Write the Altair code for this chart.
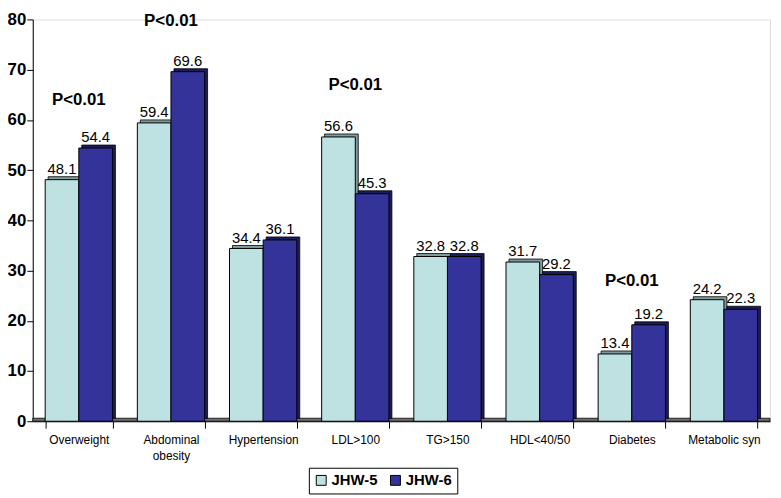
import altair as alt
import pandas as pd

categories = ["Overweight", "Abdominal obesity", "Hypertension", "LDL>100",
              "TG>150", "HDL<40/50", "Diabetes", "Metabolic syn"]
series = ["JHW-5", "JHW-6"]
jhw5 = [48.1, 59.4, 34.4, 56.6, 32.8, 31.7, 13.4, 24.2]
jhw6 = [54.4, 69.6, 36.1, 45.3, 32.8, 29.2, 19.2, 22.3]
p_categories = ["Overweight", "Abdominal obesity", "LDL>100", "Diabetes"]
p_heights = [64.0, 79.6, 67.0, 28.0]
p_text = "P<0.01"
y_ticks = list(range(0, 81, 10))
front_colors = ["#BEE2E2", "#333399"]

rows = []
for c, a, b in zip(categories, jhw5, jhw6):
    rows.append({"category": c, "series": series[0], "value": a, "label": f"{a:.1f}"})
    rows.append({"category": c, "series": series[1], "value": b, "label": f"{b:.1f}"})
df = pd.DataFrame(rows)
pdf = pd.DataFrame({"category": p_categories, "value": p_heights, "text": [p_text] * len(p_categories)})

W, H = 745, 406
FONT = "Liberation Sans"
PAD_IN = 0.27
BAND = W / len(categories) * (1 - PAD_IN)
DEPTH = 3

x = alt.X("category:N", sort=categories,
          scale=alt.Scale(paddingInner=PAD_IN, paddingOuter=PAD_IN / 2),
          axis=alt.Axis(title=None, labelAngle=0, tickBand="extent", tickSize=7,
                        tickColor="black", domainColor="black", labelColor="black",
                        labelFont=FONT, labelFontSize=12, labelPadding=7,
                        labelLineHeight=16,
                        labelExpr="datum.value == 'Abdominal obesity' ? ['Abdominal', 'obesity'] : datum.value"))
xo = alt.XOffset("series:N", sort=series,
                 scale=alt.Scale(type="band", paddingInner=0, paddingOuter=0,
                                 range=[0, BAND]))
xo_shadow = alt.XOffset("series:N", sort=series,
                        scale=alt.Scale(type="band", paddingInner=0, paddingOuter=0,
                                        range=[DEPTH, DEPTH + BAND]))
y = alt.Y("value:Q", scale=alt.Scale(domain=[0, 80], nice=False),
          axis=alt.Axis(values=y_ticks, title=None, grid=False, tickSize=6,
                        tickColor="black", domainColor="black", labelColor="black",
                        labelFont=FONT, labelFontSize=17, labelFontWeight="bold",
                        labelPadding=1))

base = alt.Chart(df)

floor = alt.Chart(pd.DataFrame({"a": [0]})).mark_rect(
    fill="#6e6e6e", stroke="black", strokeWidth=0.8
).encode(x=alt.value(0), x2=alt.value(W), y=alt.datum(0), y2=alt.datum(0.6))

shadow = base.mark_bar(yOffset=-DEPTH, stroke="black", strokeWidth=0.8).encode(
    x=x, xOffset=xo_shadow, y=y,
    fill=alt.condition(alt.datum.series == series[0], alt.value("#7f9c9c"), alt.value("#1c1c5c")),
)

front = base.mark_bar(stroke="black", strokeWidth=1).encode(
    x=x, xOffset=xo, y=y,
    color=alt.Color("series:N", sort=series,
                    scale=alt.Scale(domain=series, range=front_colors),
                    legend=alt.Legend(title=None, orient="none", direction="horizontal",
                                      legendX=279, legendY=453,
                                      symbolType="square", symbolSize=100,
                                      symbolStrokeColor="black", symbolStrokeWidth=1,
                                      labelFont=FONT, labelFontSize=15, labelFontWeight="bold",
                                      labelColor="black", labelOffset=3, columnPadding=10,
                                      padding=5, strokeColor="black", fillColor="white")),
)

values = base.mark_text(baseline="bottom", dy=-3, font=FONT, fontSize=15, color="black").encode(
    x=x, xOffset=xo, y=y, text="label:N"
)

ptext = alt.Chart(pdf).mark_text(baseline="middle", font=FONT, fontSize=17,
                                 fontWeight="bold", color="black").encode(
    x=alt.X("category:N", sort=categories), y=alt.Y("value:Q"), text="text:N"
)

chart = alt.layer(floor, shadow, front, values, ptext).resolve_scale(
    xOffset="independent"
).properties(
    width=W, height=H,
    autosize=alt.AutoSizeParams(type="none"),
    padding={"left": 25, "top": 9, "right": 3, "bottom": 75},
).configure_view(stroke=None).configure(background="white")

chart.save("out.html", embed_options={"renderer": "svg", "actions": False})
